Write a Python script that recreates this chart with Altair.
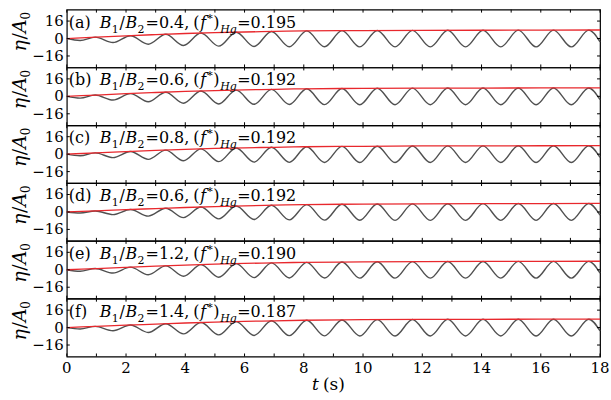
import altair as alt
import pandas as pd

# Times (s) of the start, of each trough / crest, and of the end of the record
t_ext = [0.0, 0.45, 0.96, 1.56, 2.15, 2.75, 3.34, 3.94, 4.53, 5.13, 5.72, 6.32,
         6.91, 7.51, 8.10, 8.70, 9.29, 9.89, 10.48, 11.08, 11.67, 12.27, 12.86,
         13.46, 14.05, 14.65, 15.24, 15.84, 16.43, 17.03, 17.62, 18.0]

# Normalised free-surface elevation eta/A0 at those times, one list per case
eta_a = [0, -1.8, 1.3, -3.7, 2.6, -5.2, 3.9, -6.4, 5.0, -7.0, 5.8, -7.3, 6.5, -7.5, 7.0, -7.6,
         7.2, -7.7, 7.4, -7.7, 7.5, -7.7, 7.6, -7.7, 7.6, -7.7, 7.7, -7.7, 7.7, -7.7, 7.7, -3.0]
eta_b = [0, -1.6, 1.2, -3.4, 2.5, -5.0, 3.8, -6.3, 4.9, -7.0, 5.7, -7.3, 6.4, -7.5, 6.9, -7.6,
         7.2, -7.7, 7.4, -7.7, 7.5, -7.7, 7.6, -7.7, 7.6, -7.7, 7.7, -7.7, 7.7, -7.7, 7.7, -3.0]
eta_c = [0, -1.5, 1.2, -3.2, 2.4, -4.8, 3.7, -6.1, 4.8, -6.9, 5.6, -7.3, 6.3, -7.5, 6.8, -7.6,
         7.1, -7.7, 7.3, -7.7, 7.5, -7.7, 7.6, -7.7, 7.6, -7.7, 7.7, -7.7, 7.7, -7.7, 7.7, -3.0]
eta_d = [0, -1.0, 0.9, -2.4, 2.2, -3.8, 3.4, -5.2, 4.5, -6.3, 5.4, -6.9, 6.1, -7.3, 6.7, -7.5,
         7.0, -7.6, 7.3, -7.7, 7.4, -7.7, 7.5, -7.7, 7.6, -7.7, 7.7, -7.7, 7.7, -7.7, 7.7, -3.0]
eta_e = [0, -1.4, 1.1, -3.0, 2.4, -4.6, 3.6, -5.9, 4.7, -6.8, 5.6, -7.2, 6.3, -7.5, 6.8, -7.6,
         7.1, -7.7, 7.3, -7.7, 7.5, -7.7, 7.6, -7.7, 7.6, -7.7, 7.7, -7.7, 7.7, -7.7, 7.7, -3.0]
eta_f = [0, -1.3, 1.1, -2.9, 2.3, -4.5, 3.5, -5.8, 4.6, -6.7, 5.5, -7.2, 6.2, -7.4, 6.7, -7.6,
         7.0, -7.7, 7.3, -7.7, 7.4, -7.7, 7.6, -7.7, 7.6, -7.7, 7.7, -7.7, 7.7, -7.7, 7.7, -3.0]

# Crest envelope (red curve)
env_t = [0, 1, 2, 3, 4, 5, 6, 7, 8, 10, 12, 14, 16, 18]
env_a = [0, 1.3, 2.5, 3.6, 4.6, 5.4, 6.0, 6.5, 7.0, 7.3, 7.5, 7.6, 7.7, 7.8]
env_b = [0, 1.2, 2.4, 3.5, 4.5, 5.3, 5.9, 6.4, 6.9, 7.3, 7.5, 7.6, 7.7, 7.8]
env_c = [0, 1.2, 2.3, 3.4, 4.4, 5.2, 5.8, 6.3, 6.8, 7.2, 7.5, 7.6, 7.7, 7.8]
env_d = [0, 1.0, 2.1, 3.1, 4.1, 4.9, 5.6, 6.2, 6.7, 7.2, 7.5, 7.6, 7.7, 7.8]
env_e = [0, 1.1, 2.2, 3.3, 4.3, 5.1, 5.8, 6.3, 6.8, 7.2, 7.5, 7.6, 7.7, 7.8]
env_f = [0, 1.1, 2.2, 3.2, 4.2, 5.0, 5.7, 6.2, 6.7, 7.2, 7.5, 7.6, 7.7, 7.8]

letters = ["a", "b", "c", "d", "e", "f"]
ratios = ["0.4", "0.6", "0.8", "0.6", "1.2", "1.4"]
f_peak = ["0.195", "0.192", "0.192", "0.192", "0.190", "0.187"]

x_labels = [0, 2, 4, 6, 8, 10, 12, 14, 16, 18]
x_minor = list(range(0, 19))
y_labels = [-16, 0, 16]

etas = [eta_a, eta_b, eta_c, eta_d, eta_e, eta_f]
envs = [env_a, env_b, env_c, env_d, env_e, env_f]

W, H = 535, 58
FONT = "DejaVu Serif"
GRAY = "#505050"
RED = "#e8282d"
TICK = 3

x_scale = alt.Scale(domain=[0, 18], nice=False, zero=False)
y_scale = alt.Scale(domain=[-26.5, 26.5], nice=False, zero=False)
one_row = pd.DataFrame({"k": [0]})


def text_piece(s, x, y, size, italic=False, **kw):
    return alt.Chart(one_row).mark_text(
        text=s, align=kw.pop("align", "left"), baseline="alphabetic", font=FONT,
        fontSize=size, fontStyle="italic" if italic else "normal", color="black", **kw,
    ).encode(x=alt.value(x), y=alt.value(y))


def case_label(i):
    big, small = 16, 11
    yb = 18
    return [
        text_piece(f"({letters[i]})", 2, yb, big),
        text_piece("B", 33, yb, big, True),
        text_piece("1", 45, yb + 5, small),
        text_piece("/", 53, yb, big),
        text_piece("B", 59, yb, big, True),
        text_piece("2", 71, yb + 5, small),
        text_piece(f"={ratios[i]},", 79, yb, big),
        text_piece("(", 127, yb, big),
        text_piece("f", 134, yb, big, True),
        text_piece("*", 141, yb - 6, small),
        text_piece(")", 147, yb, big),
        text_piece("Hg", 154, yb + 5, small, True),
        text_piece(f"={f_peak[i]}", 171, yb, big),
    ]


def y_title():
    # rotated eta/A0, written bottom to top
    return [
        text_piece("η", -41, 42, 19, True, angle=270),
        text_piece("/", -41, 30, 19, False, angle=270),
        text_piece("A", -41, 23.5, 19, True, angle=270),
        text_piece("0", -37, 10, 12, False, angle=270),
    ]


def panel(i, last):
    wave = pd.DataFrame({"t": t_ext, "eta": etas[i]})
    env = pd.DataFrame({"t": env_t, "eta": envs[i]})

    wave_line = alt.Chart(wave).mark_line(
        interpolate="monotone", color=GRAY, strokeWidth=1.4
    ).encode(x=alt.X("t:Q", scale=x_scale, axis=None),
             y=alt.Y("eta:Q", scale=y_scale, axis=None))
    env_line = alt.Chart(env).mark_line(
        interpolate="monotone", color=RED, strokeWidth=1.3
    ).encode(x="t:Q", y="eta:Q")

    xt = pd.DataFrame({"t": x_minor})
    yt = pd.DataFrame({"eta": y_labels,
                       "lab": [str(v).replace("-", "\u2212") for v in y_labels]})
    top_ticks = alt.Chart(xt).mark_rule(color="black").encode(
        x="t:Q", y=alt.value(0), y2=alt.value(TICK))
    bottom_ticks = alt.Chart(xt).mark_rule(color="black").encode(
        x="t:Q", y=alt.value(H), y2=alt.value(H - TICK))
    left_ticks = alt.Chart(yt).mark_rule(color="black").encode(
        y="eta:Q", x=alt.value(0), x2=alt.value(TICK))
    right_ticks = alt.Chart(yt).mark_rule(color="black").encode(
        y="eta:Q", x=alt.value(W), x2=alt.value(W - TICK))
    y_tick_labels = alt.Chart(yt).mark_text(
        align="right", baseline="middle", font=FONT, fontSize=15, color="black"
    ).encode(y="eta:Q", x=alt.value(-3), text="lab:N")
    # keeps the left edge of the layout fixed
    anchor = alt.Chart(one_row).mark_rule(opacity=0).encode(
        x=alt.value(-66), y=alt.value(0), y2=alt.value(1))

    layers = [wave_line, env_line, top_ticks, bottom_ticks, left_ticks, right_ticks,
              y_tick_labels, anchor]
    layers += y_title()
    layers += case_label(i)
    if last:
        xl = pd.DataFrame({"t": x_labels, "lab": [str(v) for v in x_labels]})
        x_tick_labels = alt.Chart(xl).mark_text(
            align="center", baseline="top", font=FONT, fontSize=15, color="black"
        ).encode(x="t:Q", y=alt.value(H + 5), text="lab:N")
        layers += [x_tick_labels,
                   text_piece("t", 246, H + 34, 17, True),
                   text_piece("(s)", 257, H + 34, 17)]
    return alt.layer(*layers).properties(width=W, height=H)


panels = [panel(i, i == 5) for i in range(6)]

chart = alt.vconcat(*panels, spacing=0, bounds="flush").configure_view(
    stroke="black", strokeWidth=1.2
).properties(
    padding={"left": 0, "top": 7, "right": 0, "bottom": 2},
    background="white",
)

chart.save("out.html", embed_options={"renderer": "svg", "actions": False})
